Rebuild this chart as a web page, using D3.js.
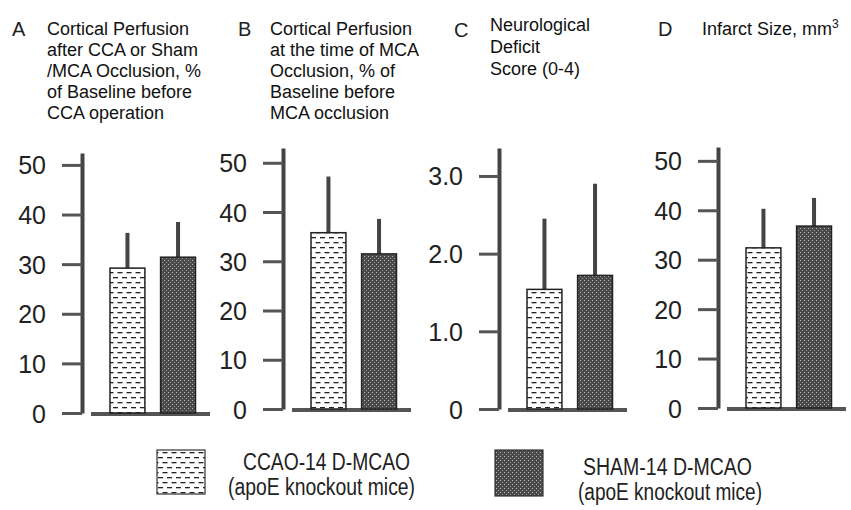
<!DOCTYPE html>
<html>
<head>
<meta charset="utf-8">
<script src="https://cdn.jsdelivr.net/npm/d3@7"></script>
<style>
  body { margin: 0; background: #fff; }
  svg { font-family: "Liberation Sans", Arial, sans-serif; }
</style>
</head>
<body>
<div id="chart"></div>
<script>
// data
var panelLetters = ["A", "B", "C", "D"];
var panelTitles = [
  ["Cortical Perfusion", "after CCA or Sham", "/MCA Occlusion, %", "of Baseline before", "CCA operation"],
  ["Cortical Perfusion", "at the time of MCA", "Occlusion, % of", "Baseline before", "MCA occlusion"],
  ["Neurological", "Deficit", "Score (0-4)"],
  ["Infarct Size, mm"]
];
var groups = ["CCAO-14 D-MCAO", "SHAM-14 D-MCAO"];
var legendSub = "(apoE knockout mice)";
var means = [[29.2, 31.4], [35.8, 31.5], [1.54, 1.72], [32.4, 36.8]];
var errs = [[7.1, 7.1], [11.4, 7.1], [0.91, 1.18], [7.9, 5.7]];
var tickVals = [[0, 10, 20, 30, 40, 50], [0, 10, 20, 30, 40, 50], [0, 1, 2, 3], [0, 10, 20, 30, 40, 50]];
var tickLabels = [["0", "10", "20", "30", "40", "50"], ["0", "10", "20", "30", "40", "50"],
                  ["0", "1.0", "2.0", "3.0"], ["0", "10", "20", "30", "40", "50"]];
var axisTop = [52.4, 53, 3.36, 52.8];

var width = 851, height = 510;
// layout per panel
var axisX = [82, 283, 499, 718];
var zeroY = [413, 409, 409, 408];
var topY = [153, 148, 148, 147];
var titleX = [47, 270, 490, 702];
var letterX = [12, 238, 454, 658];

var svg = d3.select("#chart").append("svg")
  .attr("width", width)
  .attr("height", height);

var defs = svg.append("defs");
var pl = defs.append("pattern").attr("id", "light")
  .attr("patternUnits", "userSpaceOnUse")
  .attr("width", 9).attr("height", 10);
pl.append("rect").attr("width", 9).attr("height", 10).attr("fill", "#fff");
pl.append("rect").attr("x", 0.5).attr("y", 2).attr("width", 5).attr("height", 1.3).attr("fill", "#222");
pl.append("rect").attr("x", 5).attr("y", 7).attr("width", 4).attr("height", 1.3).attr("fill", "#222");
pl.append("rect").attr("x", 0).attr("y", 7).attr("width", 1).attr("height", 1.3).attr("fill", "#222");

var pd = defs.append("pattern").attr("id", "dark")
  .attr("patternUnits", "userSpaceOnUse")
  .attr("width", 4).attr("height", 4);
pd.append("rect").attr("width", 4).attr("height", 4).attr("fill", "#4a4a4a");
pd.append("rect").attr("x", 0).attr("y", 0).attr("width", 1).attr("height", 1).attr("fill", "#b8b8b8");
pd.append("rect").attr("x", 2).attr("y", 2).attr("width", 1).attr("height", 1).attr("fill", "#9a9a9a");

var fills = ["url(#light)", "url(#dark)"];

panelLetters.forEach(function(letter, p) {
  var g = svg.append("g");
  var ax = axisX[p];

  var y = d3.scaleLinear()
    .domain([0, axisTop[p]])
    .range([zeroY[p], topY[p]]);
  var x = d3.scaleBand()
    .domain(groups)
    .range([ax + 28, ax + 113.5])
    .paddingInner(0.31);

  // title
  var ty = p == 2 ? 31 : 35;
  g.append("text")
    .attr("x", letterX[p])
    .attr("y", p == 2 ? 37 : 36)
    .style("font-size", "20px")
    .style("fill", "#222")
    .text(letter);
  var t = g.append("text")
    .attr("x", titleX[p])
    .attr("y", ty)
    .style("font-size", "18px")
    .style("fill", "#111");
  panelTitles[p].forEach(function(line, i) {
    t.append("tspan")
      .attr("x", titleX[p])
      .attr("dy", i == 0 ? 0 : (p == 2 ? 22 : 21))
      .text(line);
  });
  if (p == 3) {
    t.append("tspan").attr("dy", -7).style("font-size", "12px").text("3");
  }

  // y axis
  var axis = g.append("g")
    .attr("transform", "translate(" + ax + ",0)")
    .call(d3.axisLeft(y)
      .tickValues(tickVals[p])
      .tickFormat(function(d, i) { return tickLabels[p][i]; })
      .tickSize(20)
      .tickSizeOuter(0)
      .tickPadding(16));
  axis.select(".domain")
    .attr("stroke", "#444")
    .attr("stroke-width", 4);
  axis.selectAll(".tick line")
    .attr("stroke", "#555")
    .attr("stroke-width", 3);
  axis.selectAll(".tick text")
    .attr("fill", "#222")
    .style("font-size", "25px")
    .style("font-family", "Liberation Sans, Arial, sans-serif")
    .attr("dy", "0.36em");

  // baseline
  g.append("line")
    .attr("x1", ax + 9)
    .attr("x2", ax + 128)
    .attr("y1", y(0) + 1)
    .attr("y2", y(0) + 1)
    .attr("stroke", "#555")
    .attr("stroke-width", 4);

  // error bars
  g.selectAll(".err")
    .data(groups)
    .enter().append("line")
    .attr("class", "err")
    .attr("x1", function(d) { return x(d) + x.bandwidth() / 2; })
    .attr("x2", function(d) { return x(d) + x.bandwidth() / 2; })
    .attr("y1", function(d, i) { return y(means[p][i]); })
    .attr("y2", function(d, i) { return y(means[p][i] + errs[p][i]); })
    .attr("stroke", "#444")
    .attr("stroke-width", 4);

  // bars
  g.selectAll(".bar")
    .data(groups)
    .enter().append("rect")
    .attr("class", "bar")
    .attr("x", function(d) { return x(d); })
    .attr("width", x.bandwidth())
    .attr("y", function(d, i) { return y(means[p][i]); })
    .attr("height", function(d, i) { return y(0) - y(means[p][i]); })
    .attr("fill", function(d, i) { return fills[i]; })
    .attr("stroke", "#222")
    .attr("stroke-width", 1.5);
});

// legend
var legBoxX = [157, 495], legBoxH = [44, 46];
var leg1X = [243, 583], leg1Y = [470, 475], leg1W = [167, 169];
var leg2X = [228, 578], leg2Y = [495, 500], leg2W = [187, 184];
var legend = svg.append("g");
groups.forEach(function(name, i) {
  legend.append("rect")
    .attr("x", legBoxX[i])
    .attr("y", 450)
    .attr("width", 48)
    .attr("height", legBoxH[i])
    .attr("fill", fills[i])
    .attr("stroke", "#333")
    .attr("stroke-width", 1.2);
  legend.append("text")
    .attr("x", leg1X[i])
    .attr("y", leg1Y[i])
    .attr("textLength", leg1W[i])
    .attr("lengthAdjust", "spacingAndGlyphs")
    .style("font-size", "23px")
    .style("fill", "#222")
    .text(name);
  legend.append("text")
    .attr("x", leg2X[i])
    .attr("y", leg2Y[i])
    .attr("textLength", leg2W[i])
    .attr("lengthAdjust", "spacingAndGlyphs")
    .style("font-size", "23px")
    .style("fill", "#222")
    .text(legendSub);
});
</script>
</body>
</html>
